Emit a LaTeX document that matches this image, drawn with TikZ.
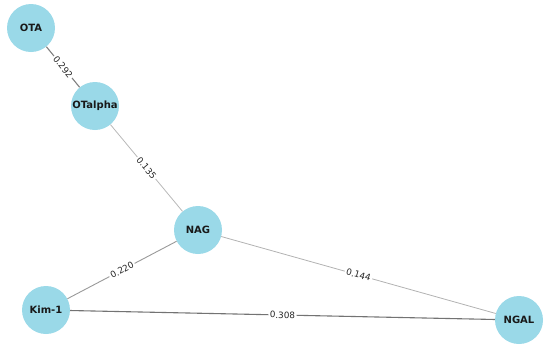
\documentclass[tikz,border=0pt]{standalone}
\usepackage{fontspec}
\setmainfont{DejaVu Sans}
\usepackage{xcolor}
\usetikzlibrary{positioning, calc}

\definecolor{nodeblue}{RGB}{154,217,232}

\begin{document}
\begin{tikzpicture}[x=1pt, y=-1pt]
        % Styles
        \tikzset{
            biomarker/.style={circle, fill=nodeblue, draw=none, minimum size=48pt, inner sep=0pt, font=\fontsize{10}{12}\selectfont\bfseries, text=black!90},
            weightlabel/.style={fill=white, inner sep=1.5pt, font=\fontsize{8.8}{10}\selectfont, text=black!85, sloped, midway},
            strongedge/.style={draw=black!55, line width=1.1pt},
            midedge/.style={draw=black!40, line width=0.9pt},
            weakedge/.style={draw=black!28, line width=0.8pt}
        }
        \useasboundingbox (0,0) rectangle (550,349);

        % Nodes
        \node [biomarker] (ota) at (31,28) {OTA};
        \node [biomarker] (otalpha) at (95,106) {OTalpha};
        \node [biomarker] (nag) at (198,230) {NAG};
        \node [biomarker] (kim) at (46,310) {Kim-1};
        \node [biomarker] (ngal) at (519,320) {NGAL};

        % Edges
        \draw [strongedge, draw=black!50] (ota) -- node[weightlabel]{0.292} (otalpha);
        \draw [weakedge] (otalpha) -- node[weightlabel]{0.135} (nag);
        \draw [midedge] (kim) -- node[weightlabel]{0.220} (nag);
        \draw [weakedge, draw=black!30] (nag) -- node[weightlabel]{0.144} (ngal);
        \draw [strongedge] (kim) -- node[weightlabel]{0.308} (ngal);
    \end{tikzpicture}
\end{document}
